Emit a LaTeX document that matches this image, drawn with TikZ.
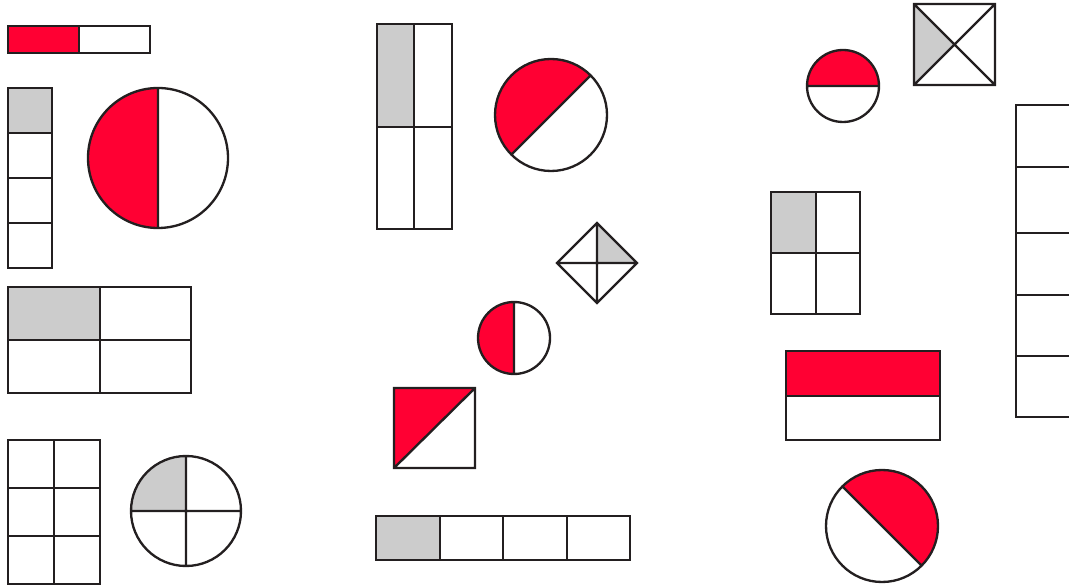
\documentclass[tikz,border=0pt]{standalone}
\definecolor{fred}{HTML}{FF0033}
\definecolor{fgray}{HTML}{CCCCCC}
\definecolor{fline}{HTML}{231F20}
\tikzset{
  shp/.style={draw=fline,line width=1.75pt,line join=miter},
  redfill/.style={fill=fred},
  grayfill/.style={fill=fgray}
}
\begin{document}
\begin{tikzpicture}[x=0.75pt,y=0.75pt]
\useasboundingbox (0,0) rectangle (1069,585);
\begin{scope}
\clip (0,0) rectangle (1069,585);
% 1 bar halves
\fill[redfill] (8,532) rectangle (79,559);
\draw[shp] (8,532) rectangle (150,559) (79,532) -- (79,559);
% 2 vertical bar of 4
\fill[grayfill] (8,452) rectangle (52,497);
\draw[shp] (8,317) rectangle (52,497) (8,452) -- (52,452) (8,407) -- (52,407) (8,362) -- (52,362);
% 3 big circle half
\fill[redfill] (158,497) arc[start angle=90,end angle=270,radius=70] -- cycle;
\draw[shp] (158,427) circle[radius=70] (158,497) -- (158,357);
% 4 rect 2x2
\fill[grayfill] (8,245) rectangle (100,298);
\draw[shp] (8,192) rectangle (191,298) (100,192) -- (100,298) (8,245) -- (191,245);
% 5 grid 2x3
\draw[shp] (8,1) rectangle (100,145) (54,1) -- (54,145) (8,97) -- (100,97) (8,49) -- (100,49);
% 6 quarter circle
\fill[grayfill] (186,74) -- (131,74) arc[start angle=180,end angle=90,radius=55] -- cycle;
\draw[shp] (186,74) circle[radius=55] (131,74) -- (241,74) (186,19) -- (186,129);
% 7 tall rect 2x2
\fill[grayfill] (377,458) rectangle (414,561);
\draw[shp] (377,356) rectangle (452,561) (414,356) -- (414,561) (377,458) -- (452,458);
% 8 circle diagonal
\fill[redfill] (551,470) ++(45:56) arc[start angle=45,end angle=225,radius=56] -- cycle;
\draw[shp] (551,470) circle[radius=56] (551,470) ++(45:56) -- ++(225:112);
% 9 diamond
\fill[grayfill] (597,322) -- (597,362) -- (637,322) -- cycle;
\draw[shp] (557,322) -- (597,362) -- (637,322) -- (597,282) -- cycle (557,322) -- (637,322) (597,282) -- (597,362);
% 10 small circle half
\fill[redfill] (514,283) arc[start angle=90,end angle=270,radius=36] -- cycle;
\draw[shp] (514,247) circle[radius=36] (514,283) -- (514,211);
% 11 square diagonal
\fill[redfill] (394,197) -- (475,197) -- (394,117) -- cycle;
\draw[shp] (394,117) rectangle (475,197) (394,117) -- (475,197);
% 12 bar of 4
\fill[grayfill] (376,25) rectangle (440,69);
\draw[shp] (376,25) rectangle (630,69) (440,25) -- (440,69) (503,25) -- (503,69) (567,25) -- (567,69);
% 13 small circle top half
\fill[redfill] (807,499) arc[start angle=180,end angle=0,radius=36] -- cycle;
\draw[shp] (843,499) circle[radius=36] (807,499) -- (879,499);
% 14 square with X
\fill[grayfill] (914,500) -- (914,581) -- (954.5,540.5) -- cycle;
\draw[shp] (914,500) rectangle (995,581) (914,500) -- (995,581) (914,581) -- (995,500);
% 15 grid 2x2
\fill[grayfill] (771,332) rectangle (816,393);
\draw[shp] (771,271) rectangle (860,393) (816,271) -- (816,393) (771,332) -- (860,332);
% 16 column at right edge
\draw[shp] (1080,480) -- (1016,480) -- (1016,168) -- (1080,168)
  (1016,418) -- (1080,418) (1016,352) -- (1080,352) (1016,290) -- (1080,290) (1016,229) -- (1080,229);
% 17 rect halves
\fill[redfill] (786,189) rectangle (940,234);
\draw[shp] (786,145) rectangle (940,234) (786,189) -- (940,189);
% 18 circle diagonal
\fill[redfill] (882,59) ++(-45:56) arc[start angle=-45,end angle=135,radius=56] -- cycle;
\draw[shp] (882,59) circle[radius=56] (882,59) ++(135:56) -- ++(-45:112);
\end{scope}
\end{tikzpicture}
\end{document}
